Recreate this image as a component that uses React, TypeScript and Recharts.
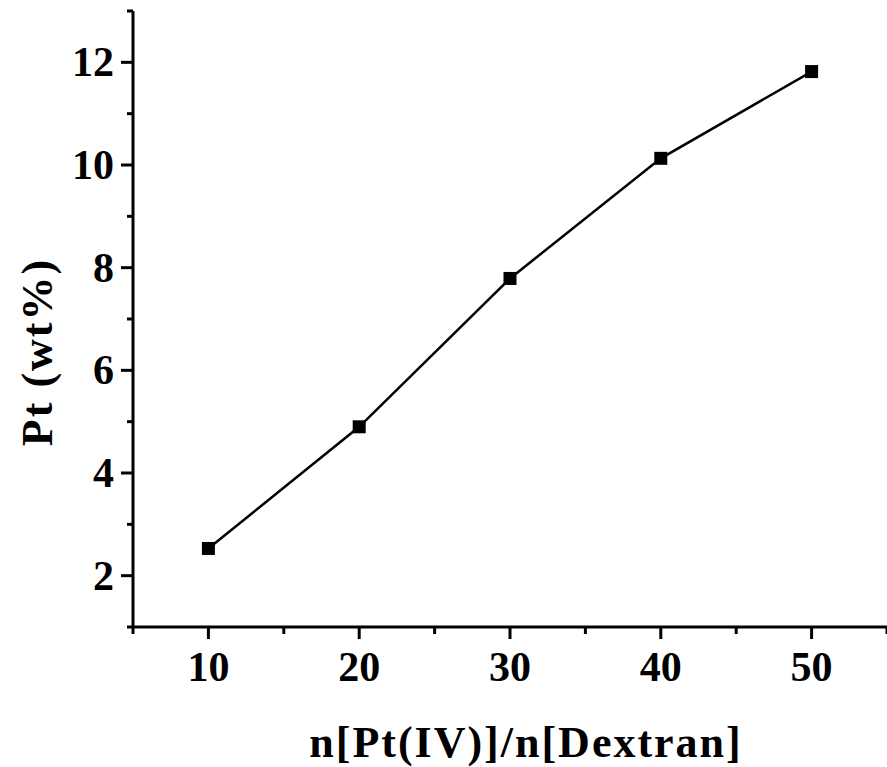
import React from 'react';
import { LineChart, Line, XAxis, YAxis } from 'recharts';

// molar ratio n[Pt(IV)]/n[Dextran] and measured Pt loading
const ratios = [10, 20, 30, 40, 50];
const ptLoading = [2.53, 4.9, 7.79, 10.13, 11.82];

const xTicks = [5, 10, 15, 20, 25, 30, 35, 40, 45, 50, 55];
const xLabeledTicks = [10, 20, 30, 40, 50];
const yTicks = [1, 2, 3, 4, 5, 6, 7, 8, 9, 10, 11, 12, 13];
const yLabeledTicks = [2, 4, 6, 8, 10, 12];

const xTitle = 'n[Pt(IV)]/n[Dextran]';
const yTitle = 'Pt (wt%)';

const chartData = ratios.map((r, i) => ({ ratio: r, pt: ptLoading[i] }));

const FONT = "'Liberation Serif', 'Times New Roman', serif";

const XTick = (props: any) => {
  const { x, y, payload } = props;
  const major = xLabeledTicks.includes(payload.value);
  return (
    <g>
      <line x1={x} x2={x} y1={y} y2={y + (major ? 12 : 7)} stroke="#000" strokeWidth={3} />
      {major && (
        <text x={x} y={y + 54} textAnchor="middle" fontFamily={FONT} fontWeight="bold" fontSize={42} fill="#000">
          {payload.value}
        </text>
      )}
    </g>
  );
};

const YTick = (props: any) => {
  const { x, y, payload } = props;
  const major = yLabeledTicks.includes(payload.value);
  return (
    <g>
      <line x1={x} x2={x - (major ? 12 : 6)} y1={y} y2={y} stroke="#000" strokeWidth={3} />
      {major && (
        <text x={x - 19} y={y + 14} textAnchor="end" fontFamily={FONT} fontWeight="bold" fontSize={42} fill="#000">
          {payload.value}
        </text>
      )}
    </g>
  );
};

const SquareDot = (props: any) => {
  const { cx, cy } = props;
  if (cx == null || cy == null) return null;
  return <rect x={cx - 6.5} y={cy - 6.5} width={13} height={13} fill="#000" />;
};

export default function App() {
  return (
    <div style={{ position: 'absolute', left: 0, top: 0, background: '#fff' }}>
      <LineChart width={887} height={767} data={chartData} margin={{ top: 11, right: 0, bottom: 0, left: 0 }}>
        <XAxis
          dataKey="ratio"
          type="number"
          domain={[5, 55]}
          ticks={xTicks}
          interval={0}
          height={140}
          tickSize={0}
          tickMargin={0}
          tickLine={false}
          axisLine={{ stroke: '#000', strokeWidth: 3 }}
          tick={<XTick />}
          label={{
            content: ({ viewBox }: any) => (
              <text
                x={viewBox.x + viewBox.width / 2 + 16}
                y={viewBox.y + viewBox.height - 10}
                textAnchor="middle"
                fontFamily={FONT}
                fontWeight="bold"
                fontSize={44}
                letterSpacing={2}
                fill="#000"
              >
                {xTitle}
              </text>
            ),
          }}
        />
        <YAxis
          type="number"
          domain={[1, 13]}
          ticks={yTicks}
          interval={0}
          width={133}
          tickSize={0}
          tickMargin={0}
          tickLine={false}
          axisLine={{ stroke: '#000', strokeWidth: 3 }}
          tick={<YTick />}
          label={{
            content: ({ viewBox }: any) => {
              const cx = viewBox.x + 52;
              const cy = 352;
              return (
                <text
                  x={cx}
                  y={cy}
                  transform={`rotate(-90, ${cx}, ${cy})`}
                  textAnchor="middle"
                  fontFamily={FONT}
                  fontWeight="bold"
                  fontSize={44}
                  letterSpacing={2}
                  fill="#000"
                >
                  {yTitle}
                </text>
              );
            },
          }}
        />
        <Line
          type="linear"
          dataKey="pt"
          stroke="#000"
          strokeWidth={2.5}
          dot={<SquareDot />}
          activeDot={false}
          isAnimationActive={false}
        />
      </LineChart>
    </div>
  );
}
